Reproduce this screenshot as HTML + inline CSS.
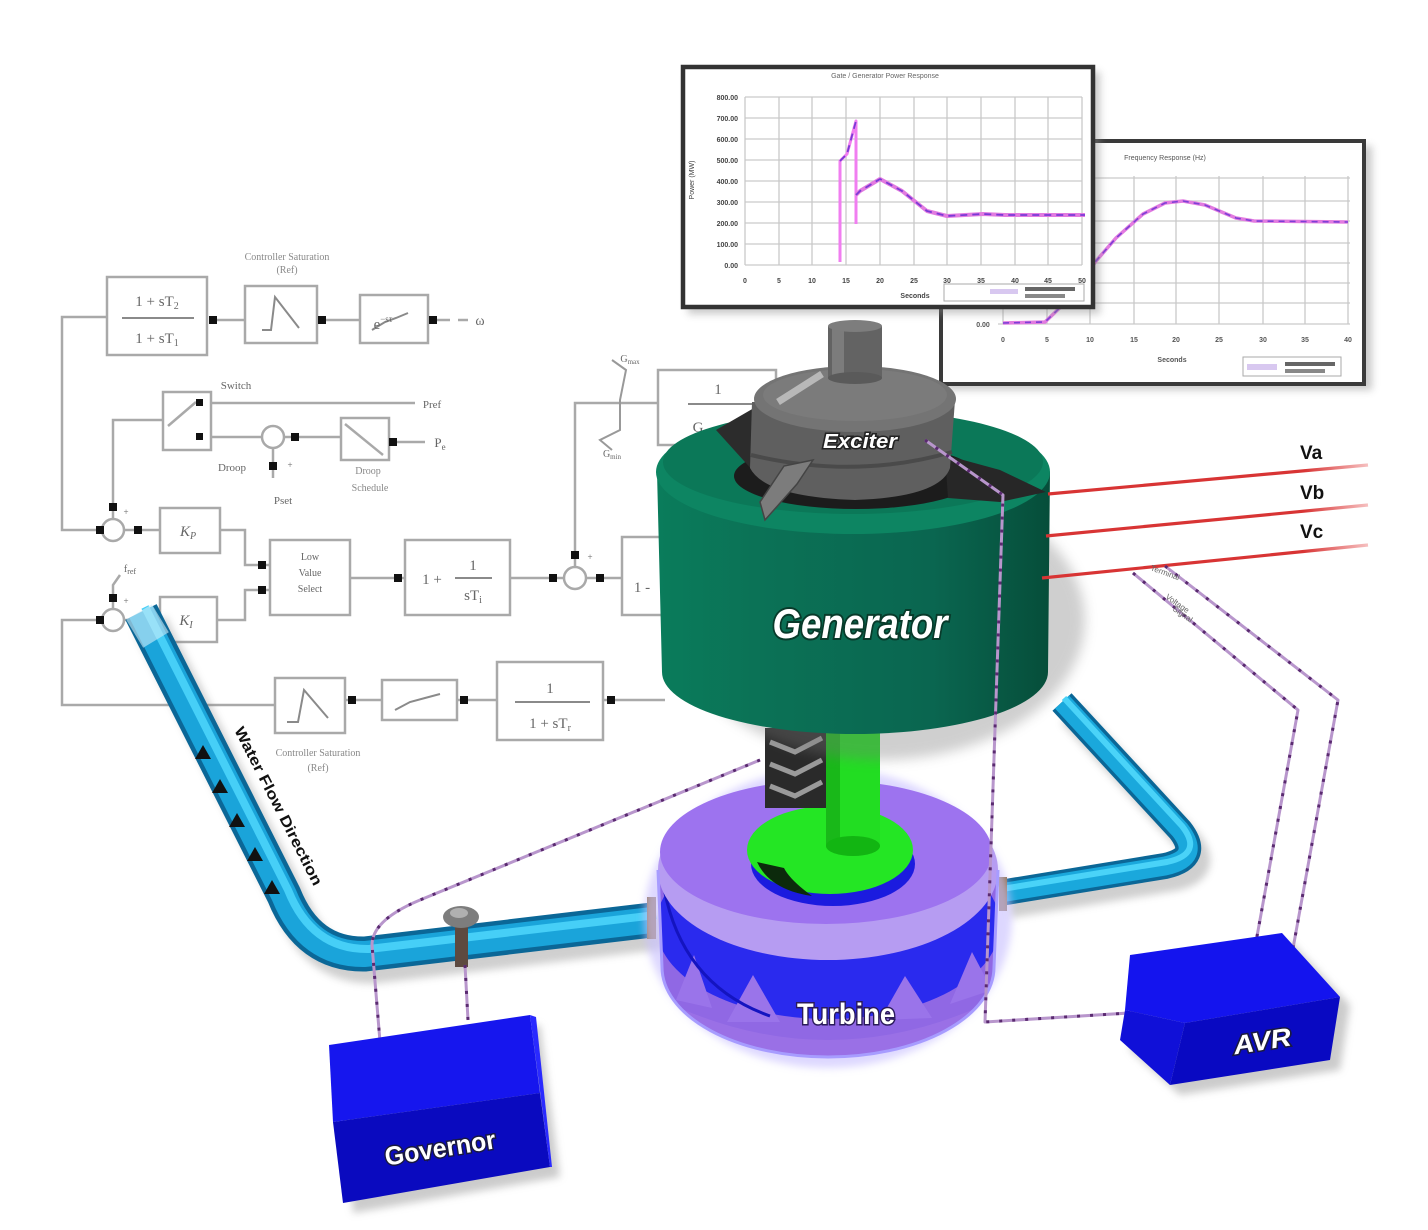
<!DOCTYPE html>
<html><head><meta charset="utf-8"><style>
html,body{margin:0;padding:0;background:#fff;}
svg{display:block;}
</style></head><body>
<svg width="1428" height="1230" viewBox="0 0 1428 1230" xmlns="http://www.w3.org/2000/svg" font-family="Liberation Sans, sans-serif">
<defs>
<filter id="b4" x="-30%" y="-30%" width="160%" height="160%"><feGaussianBlur stdDeviation="4"/></filter>
<filter id="b6" x="-30%" y="-30%" width="160%" height="160%"><feGaussianBlur stdDeviation="6"/></filter>
<linearGradient id="genSide" x1="0" x2="1" y1="0" y2="0">
 <stop offset="0" stop-color="#0a7c5b"/>
 <stop offset="0.25" stop-color="#0b7256"/>
 <stop offset="0.7" stop-color="#0a6650"/>
 <stop offset="1" stop-color="#064e3a"/>
</linearGradient>
<linearGradient id="redL" x1="0" x2="1" y1="0" y2="0">
 <stop offset="0" stop-color="#d83434"/>
 <stop offset="0.8" stop-color="#d83434"/>
 <stop offset="1" stop-color="#f6c0c0"/>
</linearGradient>
<clipPath id="turbSide"><path d="M658 870 L662 967 A166 90 0 0 0 994 967 L998 870 Z"/></clipPath>
</defs>
<rect width="1428" height="1230" fill="#fff"/>

<!-- ================= BLOCK DIAGRAM ================= -->
<g stroke="#a9a9a9" stroke-width="2.5" fill="none">
 <rect x="107" y="277" width="100" height="78" fill="#fff"/>
 <rect x="245" y="286" width="72" height="57" fill="#fff"/>
 <rect x="360" y="295" width="68" height="48" fill="#fff"/>
 <path d="M217 320 H245 M326 320 H360 M437 320 H450 M458 320 H468"/>
 <path d="M107 317 H62 V530 H100"/>
 <rect x="163" y="392" width="48" height="58" fill="#fff"/>
 <path d="M211 403 H415 M211 437 H262 M284 437 H341"/>
 <path d="M168 426 L196 402"/>
 <circle cx="273" cy="437" r="11" fill="#fff"/>
 <rect x="341" y="418" width="48" height="42" fill="#fff"/>
 <path d="M345 424 L383 455"/>
 <path d="M389 442 H425"/>
 <path d="M273 448 V478"/>
 <path d="M163 420 H113 V519"/>
 <circle cx="113" cy="530" r="11" fill="#fff"/>
 <path d="M124 530 H160"/>
 <rect x="160" y="508" width="60" height="45" fill="#fff"/>
 <path d="M220 530 H245 V565 H270"/>
 <circle cx="113" cy="620" r="11" fill="#fff"/>
 <path d="M124 620 H160"/>
 <path d="M113 609 V585 L120 575"/>
 <rect x="160" y="597" width="57" height="45" fill="#fff"/>
 <path d="M217 620 H245 V590 H270"/>
 <rect x="270" y="540" width="80" height="75" fill="#fff"/>
 <path d="M350 578 H405"/>
 <rect x="405" y="540" width="105" height="75" fill="#fff"/>
 <path d="M510 578 H564"/>
 <circle cx="575" cy="578" r="11" fill="#fff"/>
 <path d="M575 567 V403 H658"/>
 <path d="M586 578 H622"/>
 <rect x="622" y="537" width="60" height="78" fill="#fff"/>
 <rect x="658" y="370" width="118" height="75" fill="#fff"/>
 <path d="M612 360 L626 370 L620 400 L620 430 L600 440 L612 450" stroke="#999" stroke-width="2"/>
 <path d="M665 700 H603"/>
 <rect x="497" y="662" width="106" height="78" fill="#fff"/>
 <path d="M497 700 H457"/>
 <rect x="382" y="680" width="75" height="40" fill="#fff"/>
 <path d="M382 700 H345"/>
 <rect x="275" y="678" width="70" height="55" fill="#fff"/>
 <path d="M275 705 H62 V620 H102"/>
</g>
<!-- box contents -->
<g stroke="#8a8a8a" stroke-width="2" fill="none">
 <path d="M122 318 H194"/>
 <path d="M262 330 H271 L275 297 L299 328"/>
 <path d="M372 330 L385 322 L396 318 L408 313"/>
 <path d="M455 578 H492"/>
 <path d="M688 404 H762"/>
 <path d="M515 702 H590"/>
 <path d="M287 722 H298 L304 690 L328 718"/>
 <path d="M395 710 L410 702 L425 698 L440 694"/>
</g>
<g fill="#666" font-family="Liberation Serif, serif" font-size="15" text-anchor="middle">
 <text x="157" y="306">1 + sT<tspan font-size="10" dy="3">2</tspan></text>
 <text x="157" y="343">1 + sT<tspan font-size="10" dy="3">1</tspan></text>
 <text x="383" y="329">e<tspan font-size="9" dy="-7">−sτ</tspan></text>
 <text x="480" y="325" font-size="14">ω</text>
 <text x="287" y="260" font-size="10" fill="#888">Controller Saturation</text>
 <text x="287" y="273" font-size="10" fill="#888">(Ref)</text>
 <text x="236" y="389" font-size="11">Switch</text>
 <text x="432" y="408" font-size="11">Pref</text>
 <text x="440" y="447" font-size="13">P<tspan font-size="9" dy="3">e</tspan></text>
 <text x="232" y="471" font-size="11">Droop</text>
 <text x="283" y="504" font-size="11">Pset</text>
 <text x="368" y="474" font-size="10" fill="#888">Droop</text>
 <text x="370" y="491" font-size="10" fill="#888">Schedule</text>
 <text x="188" y="536" font-style="italic">K<tspan font-size="10" dy="3">P</tspan></text>
 <text x="186" y="625" font-style="italic">K<tspan font-size="10" dy="3">I</tspan></text>
 <text x="130" y="572" font-size="10">f<tspan font-size="8" dy="2">ref</tspan></text>
 <text x="310" y="560" font-size="10">Low</text>
 <text x="310" y="576" font-size="10">Value</text>
 <text x="310" y="592" font-size="10">Select</text>
 <text x="432" y="584">1 +</text>
 <text x="473" y="570">1</text>
 <text x="473" y="600">sT<tspan font-size="10" dy="3">i</tspan></text>
 <text x="642" y="592">1 -</text>
 <text x="718" y="394">1</text>
 <text x="700" y="432">G<tspan font-size="10" dy="3">s</tspan></text>
 <text x="630" y="362" font-size="10">G<tspan font-size="7" dy="2">max</tspan></text>
 <text x="612" y="457" font-size="10">G<tspan font-size="7" dy="2">min</tspan></text>
 <text x="550" y="693">1</text>
 <text x="550" y="728">1 + sT<tspan font-size="10" dy="3">r</tspan></text>
 <text x="318" y="756" font-size="10" fill="#888">Controller Saturation</text>
 <text x="318" y="771" font-size="10" fill="#888">(Ref)</text>
 <text x="126" y="515" font-size="9">+</text>
 <text x="126" y="604" font-size="9">+</text>
 <text x="590" y="560" font-size="9">+</text>
 <text x="290" y="468" font-size="9">+</text>
</g>
<!-- ports -->
<g fill="#111">
 <rect x="209" y="316" width="8" height="8"/><rect x="318" y="316" width="8" height="8"/><rect x="429" y="316" width="8" height="8"/>
 <rect x="196" y="399" width="7" height="7"/><rect x="196" y="433" width="7" height="7"/><rect x="291" y="433" width="8" height="8"/>
 <rect x="389" y="438" width="8" height="8"/><rect x="269" y="462" width="8" height="8"/>
 <rect x="109" y="503" width="8" height="8"/><rect x="96" y="526" width="8" height="8"/><rect x="134" y="526" width="8" height="8"/>
 <rect x="258" y="561" width="8" height="8"/><rect x="258" y="586" width="8" height="8"/><rect x="109" y="594" width="8" height="8"/>
 <rect x="96" y="616" width="8" height="8"/><rect x="144" y="616" width="8" height="8"/>
 <rect x="394" y="574" width="8" height="8"/><rect x="549" y="574" width="8" height="8"/><rect x="571" y="551" width="8" height="8"/><rect x="596" y="574" width="8" height="8"/>
 <rect x="607" y="696" width="8" height="8"/><rect x="460" y="696" width="8" height="8"/><rect x="348" y="696" width="8" height="8"/>
</g>

<!-- ================= CHARTS ================= -->
<rect x="946" y="146" width="426" height="244" fill="#888" opacity="0.45" filter="url(#b4)"/>
<rect x="941" y="141" width="423" height="243" fill="#fff" stroke="#3a3a3a" stroke-width="4"/>
<g stroke="#c9c9c9" stroke-width="1.3">
 <path d="M1003 176 V324 M1047 176 V324 M1090 176 V324 M1134 176 V324 M1176 176 V324 M1219 176 V324 M1263 176 V324 M1305 176 V324 M1348 176 V324"/>
 <path d="M1003 178 H1350 M1003 201 H1350 M1003 221 H1350 M1003 243 H1350 M1003 263 H1350 M1003 283 H1350 M1003 303 H1350 M998 324 H1350"/>
</g>
<g fill="#555" font-size="7" text-anchor="middle" font-weight="bold">
 <text x="1003" y="342">0</text><text x="1047" y="342">5</text><text x="1090" y="342">10</text><text x="1134" y="342">15</text><text x="1176" y="342">20</text><text x="1219" y="342">25</text><text x="1263" y="342">30</text><text x="1305" y="342">35</text><text x="1348" y="342">40</text>
 <text x="983" y="327">0.00</text>
 <text x="1172" y="362">Seconds</text>
 <text x="1165" y="160" text-anchor="middle" font-weight="normal">Frequency Response (Hz)</text>
</g>
<rect x="1243" y="357" width="98" height="19" fill="#fff" stroke="#aaa" stroke-width="1"/>
<rect x="1247" y="364" width="30" height="6" fill="#d8c8f0"/>
<rect x="1285" y="362" width="50" height="4" fill="#666"/><rect x="1285" y="369" width="40" height="4" fill="#888"/>
<path d="M1003 323 L1045 322 L1070 298 L1096 261 L1116 238 L1143 214 L1165 203 L1183 201 L1205 205 L1236 218 L1254 221 L1348 222" fill="none" stroke="#e27be0" stroke-width="3.5"/>
<path d="M1003 323 L1045 322 L1070 298 L1096 261 L1116 238 L1143 214 L1165 203 L1183 201 L1205 205 L1236 218 L1254 221 L1348 222" fill="none" stroke="#7d3fd6" stroke-width="1.6" stroke-dasharray="6 5"/>

<rect x="688" y="72" width="412" height="242" fill="#888" opacity="0.45" filter="url(#b4)"/>
<rect x="683" y="67" width="410" height="240" fill="#fff" stroke="#333" stroke-width="4.5"/>
<g stroke="#c9c9c9" stroke-width="1.3">
 <path d="M745 97 V265 M779 97 V265 M812 97 V265 M846 97 V265 M880 97 V265 M914 97 V265 M947 97 V265 M981 97 V265 M1015 97 V265 M1048 97 V265 M1082 97 V265"/>
 <path d="M745 97 H1082 M745 118 H1082 M745 139 H1082 M745 160 H1082 M745 181 H1082 M745 202 H1082 M745 223 H1082 M745 244 H1082 M745 265 H1082"/>
</g>
<g fill="#444" font-size="7" font-weight="bold" text-anchor="end">
 <text x="738" y="100">800.00</text><text x="738" y="121">700.00</text><text x="738" y="142">600.00</text><text x="738" y="163">500.00</text><text x="738" y="184">400.00</text><text x="738" y="205">300.00</text><text x="738" y="226">200.00</text><text x="738" y="247">100.00</text><text x="738" y="268">0.00</text>
</g>
<g fill="#444" font-size="7" font-weight="bold" text-anchor="middle">
 <text x="745" y="283">0</text><text x="779" y="283">5</text><text x="812" y="283">10</text><text x="846" y="283">15</text><text x="880" y="283">20</text><text x="914" y="283">25</text><text x="947" y="283">30</text><text x="981" y="283">35</text><text x="1015" y="283">40</text><text x="1048" y="283">45</text><text x="1082" y="283">50</text>
 <text x="915" y="298">Seconds</text>
 <text x="885" y="78" font-weight="normal" fill="#666">Gate / Generator Power Response</text>
 <text x="694" y="180" font-weight="normal" transform="rotate(-90 694 180)">Power (MW)</text>
</g>
<rect x="944" y="284" width="140" height="17" fill="#fff" stroke="#aaa" stroke-width="1"/>
<rect x="990" y="289" width="28" height="5" fill="#d8c8f0"/><rect x="1025" y="287" width="50" height="4" fill="#666"/><rect x="1025" y="294" width="40" height="4" fill="#888"/>
<g fill="none" stroke-linejoin="round">
 <path d="M840 262 L840 161 L847 154 L856 121 L856 224" stroke="#f07ef0" stroke-width="3"/>
 <path d="M856 195 L860 191 L880 179 L902 191 L927 211 L947 216 L983 214 L1005 215 L1085 215" stroke="#e27be0" stroke-width="4"/>
 <path d="M840 161 L847 154 L856 121 M856 195 L860 191 L880 179 L902 191 L927 211 L947 216 L983 214 L1005 215 L1085 215" stroke="#7a3ad6" stroke-width="1.8" stroke-dasharray="7 5"/>
</g>

<!-- ================= PIPES ================= -->
<g fill="none" stroke-linejoin="round">
 <path d="M141 612 L284 895 Q308 955 365 954 L652 920" stroke="#777" stroke-width="35" opacity="0.35" transform="translate(9,12)" filter="url(#b4)"/>
 <path d="M141 612 L284 895 Q308 955 365 954 L652 920" stroke="#0b6797" stroke-width="35"/>
 <path d="M141 612 L284 895 Q308 955 365 954 L652 920" stroke="#1aa4da" stroke-width="26"/>
 <path d="M141 612 L284 895 Q308 955 365 954 L652 920" stroke="#46cff7" stroke-width="8" transform="translate(4,-5)"/>
 <path d="M1000 893 L1165 866 Q1202 858 1180 830 L1062 702" stroke="#777" stroke-width="26" opacity="0.35" transform="translate(9,12)" filter="url(#b4)"/>
 <path d="M1000 893 L1165 866 Q1202 858 1180 830 L1062 702" stroke="#0b6797" stroke-width="26"/>
 <path d="M1000 893 L1165 866 Q1202 858 1180 830 L1062 702" stroke="#1aa8dc" stroke-width="19"/>
 <path d="M1000 893 L1165 866 Q1202 858 1180 830 L1062 702" stroke="#4ad3f8" stroke-width="6" transform="translate(2,-4)"/>
</g>
<path d="M139 612 L156 640" stroke="#cfeefa" stroke-width="30" opacity="0.6"/>
<g fill="#111">
 <polygon points="203,745 211,759 195,759"/>
 <polygon points="220,779 228,793 212,793"/>
 <polygon points="237,813 245,827 229,827"/>
 <polygon points="255,847 263,861 247,861"/>
 <polygon points="272,880 280,894 264,894"/>
</g>
<text x="234" y="730" font-size="15" font-weight="bold" fill="#111" transform="rotate(63 234 730)" textLength="176" lengthAdjust="spacingAndGlyphs">Water Flow Direction</text>
<!-- valve -->
<rect x="455" y="924" width="13" height="43" fill="#5d4a40"/>
<ellipse cx="461" cy="917" rx="18" ry="11" fill="#7d7d7d"/>
<ellipse cx="459" cy="913" rx="9" ry="5" fill="#b0b0b0"/>
<!-- flanges -->
<rect x="647" y="897" width="9" height="42" fill="#8a6a3a"/>
<rect x="999" y="877" width="8" height="34" fill="#8a6a3a"/>

<!-- ================= TURBINE ================= -->
<ellipse cx="828" cy="918" rx="184" ry="150" fill="#cbc2ff" opacity="0.65" filter="url(#b4)"/>
<path d="M658 870 L662 967 A166 90 0 0 0 994 967 L998 870 Z" fill="#9068e4"/>
<g clip-path="url(#turbSide)">
 <ellipse cx="828" cy="925" rx="172" ry="94" fill="#2a2aee"/>
 <polygon points="676,1000 694,955 712,1008" fill="#9a74ea"/>
 <polygon points="727,1022 753,975 780,1022" fill="#9a74ea"/>
 <polygon points="880,1020 905,976 932,1018" fill="#9a74ea"/>
 <polygon points="950,1004 972,952 992,990" fill="#9a74ea"/>
 <path d="M664 888 Q682 985 770 1016" stroke="#1414c0" stroke-width="3" fill="none"/>
 <path d="M662 1000 Q828 1080 994 1000 L994 1070 L662 1070 Z" fill="#9a70e6"/>
</g>
<ellipse cx="828" cy="870" rx="170" ry="90" fill="#b69cf2"/>
<ellipse cx="826" cy="852" rx="166" ry="72" fill="#9d73ef"/>
<path d="M658 870 L662 967 A166 90 0 0 0 994 967 L998 870" fill="none" stroke="#a79cff" stroke-width="3"/>
<ellipse cx="833" cy="864" rx="82" ry="42" fill="#1b1bdf"/>
<ellipse cx="830" cy="850" rx="83" ry="44" fill="#24e624"/>
<path d="M757 862 Q770 890 812 896 Q790 880 784 868 Z" fill="#0c2a0c"/>
<text x="846" y="1024" font-size="30" font-weight="bold" fill="#fff" stroke="#2a1a5a" stroke-width="3" paint-order="stroke" text-anchor="middle" textLength="98" lengthAdjust="spacingAndGlyphs">Turbine</text>

<!-- shaft & coupling -->
<rect x="826" y="726" width="54" height="120" fill="#22dd22"/>
<rect x="826" y="726" width="14" height="120" fill="#19b819"/>
<ellipse cx="853" cy="846" rx="27" ry="10" fill="#12b512"/>
<rect x="765" y="728" width="61" height="80" fill="#2a2a2a"/>
<g fill="none" stroke="#9a9a9a" stroke-width="5">
 <path d="M770 742 L795 752 L822 738"/>
 <path d="M770 764 L795 774 L822 760"/>
 <path d="M770 786 L795 796 L822 782"/>
</g>

<!-- ================= GENERATOR ================= -->
<ellipse cx="880" cy="620" rx="205" ry="140" fill="#777" opacity="0.35" filter="url(#b6)"/>
<path d="M657 472 L662 672 A193 62 0 0 0 1048 672 L1050 472 Z" fill="url(#genSide)"/>
<ellipse cx="853" cy="472" rx="197" ry="62" fill="#0d8562"/>
<ellipse cx="853" cy="462" rx="190" ry="52" fill="#0b7858"/>
<ellipse cx="856" cy="476" rx="122" ry="33" fill="#1c1c1c"/>
<polygon points="945,455 1000,470 1046,492 1000,502 948,498" fill="#272727"/>
<polygon points="716,430 754,408 754,472" fill="#2c2c2c"/>
<text x="860" y="638" font-size="42" font-weight="bold" font-style="italic" fill="#fff" stroke="#083a2a" stroke-width="4" paint-order="stroke" text-anchor="middle" textLength="175" lengthAdjust="spacingAndGlyphs">Generator</text>

<!-- exciter -->
<path d="M752 402 L750 468 Q765 497 855 500 Q940 497 950 468 L955 400 Z" fill="#5f5f5f"/>
<path d="M751 455 Q855 480 952 452" fill="none" stroke="#4a4a4a" stroke-width="4"/>
<ellipse cx="855" cy="399" rx="101" ry="33" fill="#747474"/>
<ellipse cx="855" cy="395" rx="92" ry="26" fill="#7b7b7b"/>
<path d="M778 402 L822 374" stroke="#b8b8b8" stroke-width="7"/>
<rect x="828" y="326" width="54" height="52" fill="#636363"/>
<rect x="832" y="326" width="12" height="52" fill="#7c7c7c"/>
<ellipse cx="855" cy="378" rx="27" ry="6" fill="#5a5a5a"/>
<ellipse cx="855" cy="326" rx="27" ry="6" fill="#7d7d7d"/>
<polygon points="765,520 760,502 784,466 813,460 797,484" fill="#7c7c7c" stroke="#444" stroke-width="1.5"/>
<text x="860" y="448" font-size="20" font-weight="bold" font-style="italic" fill="#fff" stroke="#222" stroke-width="3" paint-order="stroke" text-anchor="middle" textLength="74" lengthAdjust="spacingAndGlyphs">Exciter</text>

<!-- ================= RED LINES ================= -->
<g stroke="url(#redL)" stroke-width="3.2">
 <line x1="1048" y1="494" x2="1368" y2="465"/>
 <line x1="1046" y1="536" x2="1368" y2="505"/>
 <line x1="1042" y1="578" x2="1368" y2="545"/>
</g>
<g font-size="19" font-weight="bold" fill="#111">
 <text x="1300" y="459">Va</text>
 <text x="1300" y="499">Vb</text>
 <text x="1300" y="538">Vc</text>
</g>

<!-- ================= WIRES ================= -->
<g fill="none" stroke-linejoin="round">
 <g stroke="#b896cc" stroke-width="3">
  <path d="M925 440 L1003 495 L985 1022 L1145 1012"/>
  <path d="M760 760 L420 900 Q372 920 372 945 L383 1078"/>
  <path d="M465 965 L468 1020"/>
  <path d="M1133 573 L1298 710 L1250 975"/>
  <path d="M1165 566 L1338 700 L1290 965"/>
 </g>
 <g stroke="#5a2a70" stroke-width="3" stroke-dasharray="3 10">
  <path d="M925 440 L1003 495 L985 1022 L1145 1012"/>
  <path d="M760 760 L420 900 Q372 920 372 945 L383 1078"/>
  <path d="M465 965 L468 1020"/>
  <path d="M1133 573 L1298 710 L1250 975"/>
  <path d="M1165 566 L1338 700 L1290 965"/>
 </g>
</g>
<g fill="#666" font-size="8">
 <text x="1150" y="570" transform="rotate(20 1150 570)">Terminal</text>
 <text x="1165" y="598" transform="rotate(35 1165 598)">Voltage</text>
 <text x="1172" y="610" transform="rotate(35 1172 610)">Signal</text>
</g>

<!-- ================= GOVERNOR BOX ================= -->
<polygon points="339,1055 540,1025 560,1177 353,1213" fill="#999" opacity="0.5" filter="url(#b4)"/>
<polygon points="329,1045 530,1015 540,1093 333,1122" fill="#1616ee"/>
<polygon points="333,1122 540,1093 550,1167 343,1203" fill="#0a0abf"/>
<polygon points="530,1015 536,1017 552,1167 550,1167" fill="#2a2aff"/>
<text x="440" y="1157" font-size="26" font-weight="bold" fill="#fff" stroke="#1a1a40" stroke-width="3" paint-order="stroke" text-anchor="middle" transform="rotate(-9 440 1147)" textLength="112" lengthAdjust="spacingAndGlyphs">Governor</text>

<!-- ================= AVR BOX ================= -->
<polygon points="1140,965 1292,943 1350,1005 1340,1070 1180,1095 1130,1050" fill="#999" opacity="0.5" filter="url(#b4)"/>
<polygon points="1130,955 1282,933 1340,997 1185,1023 1125,1010" fill="#1414ee"/>
<polygon points="1125,1010 1185,1023 1170,1085 1120,1040" fill="#1010d8"/>
<polygon points="1185,1023 1340,997 1330,1060 1170,1085" fill="#0909c2"/>
<text x="1262" y="1050" font-size="26" font-weight="bold" font-style="italic" fill="#fff" stroke="#1a1a40" stroke-width="3" paint-order="stroke" text-anchor="middle" transform="rotate(-9 1262 1040)" textLength="58" lengthAdjust="spacingAndGlyphs">AVR</text>
</svg>
</body></html>
